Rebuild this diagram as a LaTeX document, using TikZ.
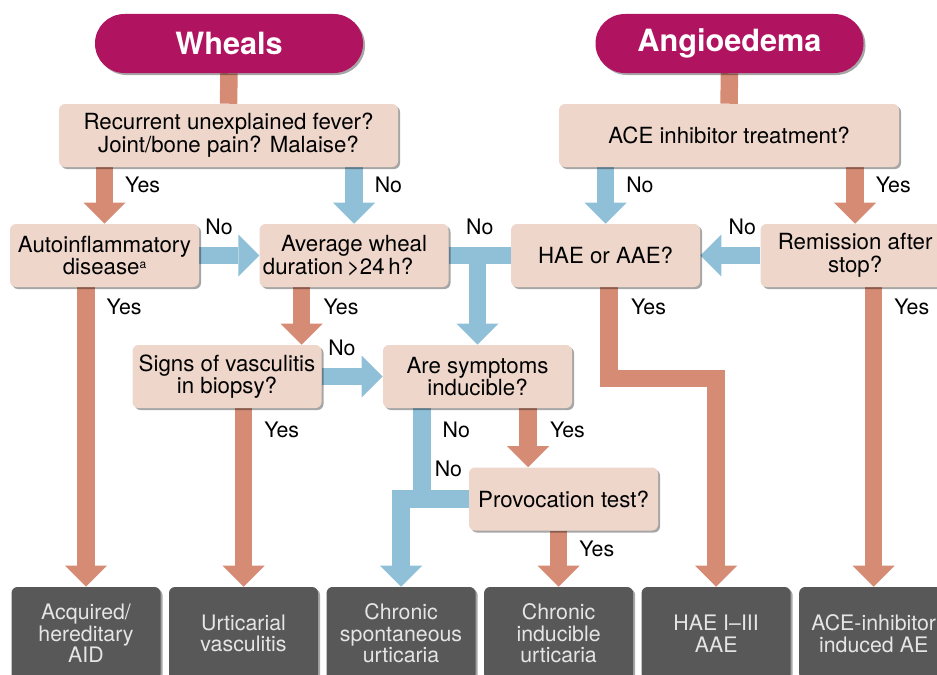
\documentclass[tikz,border=0pt]{standalone}
\usepackage{fontspec}
\setmainfont{TeX Gyre Heros}
\usetikzlibrary{arrows.meta,positioning,shadows,backgrounds,calc}

\definecolor{pillc}{HTML}{B01460}
\definecolor{boxc}{HTML}{EED6CB}
\definecolor{yesc}{HTML}{D68B74}
\definecolor{noc}{HTML}{8FC0D8}
\definecolor{outc}{HTML}{585858}

\begin{document}
\begin{tikzpicture}[x=0.75pt,y=-0.75pt,
  boxshadow/.style={drop shadow={shadow xshift=1.5pt,shadow yshift=-1.5pt,fill=black,opacity=.35}},
  pill/.style={fill=pillc,rounded corners=22pt,minimum width=201pt,minimum height=44.25pt,
    inner sep=0pt,text=white,font=\fontsize{23}{23}\selectfont\bfseries,boxshadow},
  qbox/.style={fill=boxc,rounded corners=4.5pt,minimum width=141.75pt,minimum height=47.25pt,
    inner sep=0pt,align=center,font=\fontsize{16.7}{17}\selectfont,boxshadow},
  outbox/.style={fill=outc,rounded corners=4.5pt,minimum width=111.75pt,minimum height=69.75pt,
    inner sep=0pt,align=center,text=white!90!black,font=\fontsize{16}{16.2}\selectfont,boxshadow},
  lbl/.style={inner sep=0pt,font=\fontsize{16}{16}\selectfont},
  yesbar/.style={draw=yesc,line width=13.1pt},
  nobar/.style={draw=noc,line width=13.1pt},
  yesarrow/.style={yesbar,-{Triangle[width=31.5pt,length=15.75pt,line width=0pt]}},
  noarrow/.style={nobar,-{Triangle[width=31.5pt,length=15.75pt,line width=0pt]}}]
\useasboundingbox (0,0) rectangle (937,674);
\clip (0,0) rectangle (937,674);

% titles
\node[pill] (wheals) at (229,43.5) {Wheals};
\node[pill] (angio) at (729.5,43.5) {Angioedema};

% questions
\node[qbox,minimum width=254.25pt] (fever) at (228.5,135.5) {Recurrent unexplained fever?\\Joint/bone pain? Malaise?};
\node[qbox,minimum width=255pt] (ace) at (729,135.5) {ACE inhibitor treatment?};
\node[qbox] (aid) at (104.5,255.5) {Autoinflammatory\\disease\raisebox{5pt}{\fontsize{9}{9}\selectfont a}};
\node[qbox,right=45pt of aid] (dur) {Average wheal\\duration\,>24\,h?\hspace*{24pt}};
\node[qbox,right=46.5pt of dur] (hae) {HAE or AAE?};
\node[qbox,right=45pt of hae] (remis) {Remission after\\stop?};
\node[qbox] (vasc) at (227,376.5) {Signs of vasculitis\\in biopsy?};
\node[qbox] (induc) at (477.5,376.5) {Are symptoms\\inducible?};
\node[qbox] (provo) at (563.5,499) {Provocation test?};

% diagnoses
\node[outbox] (dx1) at (86,633.5) {Acquired/\\hereditary\\AID};
\node[outbox,right=6pt of dx1] (dx2) {Urticarial\\vasculitis};
\node[outbox,right=6pt of dx2] (dx3) {Chronic\\spontaneous\\urticaria};
\node[outbox,right=6pt of dx3] (dx4) {Chronic\\inducible\\urticaria};
\node[outbox,right=6pt of dx4] (dx5) {HAE I--III\\AAE};
\node[outbox,right=6pt of dx5] (dx6) {ACE-inhibitor\\induced AE};

\begin{scope}[on background layer]
\draw[yesbar] (wheals.south) -- (fever.north);
\draw[yesbar] (angio.south) -- (ace.north);
\draw[yesarrow] (fever.south -| aid) -- node[lbl,right=9pt,pos=0.32] {Yes} (aid.north);
\draw[noarrow] (fever.south -| dur) -- node[lbl,right=9pt,pos=0.32] {No} (dur.north);
\draw[noarrow] (ace.south -| hae) -- node[lbl,right=9pt,pos=0.32] {No} (hae.north);
\draw[yesarrow] (ace.south -| remis) -- node[lbl,right=9pt,pos=0.32] {Yes} (remis.north);
\draw[noarrow] (aid.east) -- node[lbl,above=9pt,pos=0.33] {No} (dur.west);
\draw[nobar] (dur.east) -- node[lbl,above=9pt] {No} (hae.west);
\draw[noarrow] (dur.east -| induc) -- (induc.north);
\draw[noarrow] (remis.west) -- node[lbl,above=9pt,pos=0.3] {No} (hae.east);
\draw[yesarrow] (aid.south -| dx1) -- node[lbl,right=9pt,pos=0.067] {Yes} (dx1.north);
\draw[yesarrow] ($(dur.south)+(-52.5,0)$) -- node[lbl,right=10pt,pos=0.34] {Yes} ($(dur.south |- vasc.north)+(-52.5,0)$);
\draw[noarrow] (vasc.east) -- node[lbl,above=9pt,pos=0.33] {No} (induc.west);
\draw[yesarrow] (vasc.south -| dx2) -- node[lbl,right=9pt,pos=0.12] {Yes} (dx2.north);
\draw[nobar] ($(induc.south)+(-55.5,0)$) -- node[lbl,right=9pt,pos=0.22] {No} ($(induc.south |- provo.west)+(-55.5,9)$);
\draw[noarrow] (provo.west) -- node[lbl,above=10pt,pos=0.3] {No} (provo.west -| dx3) -- (dx3.north);
\draw[yesarrow] ($(induc.south)+(50.5,0)$) -- node[lbl,right=10pt,pos=0.37] {Yes} ($(induc.south |- provo.north)+(50.5,0)$);
\draw[yesarrow] (provo.south -| dx4) -- node[lbl,right=9pt,pos=0.32] {Yes} (dx4.north);
\draw[yesarrow] ($(hae.south)+(3.5,0)$) -- node[lbl,right=10pt,pos=0.22] {Yes} ++(0,91) -| (dx5.north);
\draw[yesarrow] (remis.south -| dx6) -- node[lbl,right=9pt,pos=0.067] {Yes} (dx6.north);
\end{scope}
\end{tikzpicture}
\end{document}
